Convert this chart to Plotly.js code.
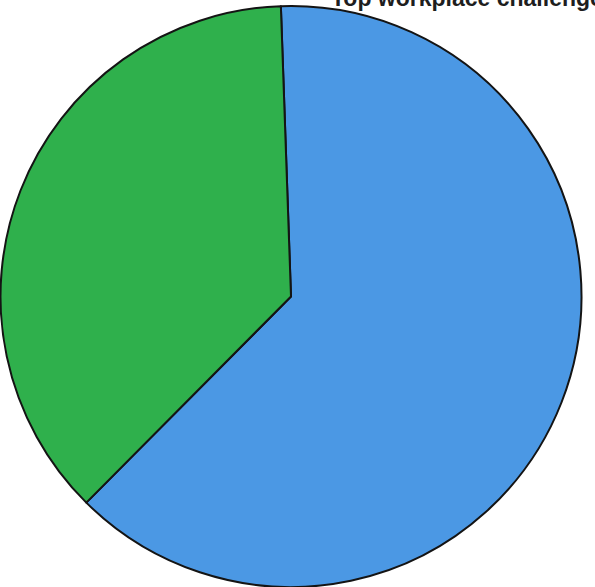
<!DOCTYPE html>
<html>
<head>
<meta charset="utf-8">
<script src="https://cdn.plot.ly/plotly-3.0.1.min.js"></script>
<style>html,body{margin:0;padding:0;background:#fff;}#chart{width:595px;height:587px;}</style>
</head>
<body>
<div id="chart"></div>
<script>
const categories = ["Blue segment", "Green segment"];
const values = [63, 37];
const sliceColors = ["#4b98e4", "#2fb04c"];
const titleText = "Top workplace challenges";

const data = [{
  type: "pie",
  labels: categories,
  values: values,
  sort: false,
  direction: "clockwise",
  rotation: -2,
  textinfo: "none",
  hoverinfo: "label+percent",
  marker: { colors: sliceColors, line: { color: "#141414", width: 2 } },
  showlegend: false
}];

const layout = {
  width: 595, height: 587,
  margin: { l: 0, r: 13, t: 6, b: 0 },
  paper_bgcolor: "#ffffff",
  plot_bgcolor: "#ffffff",
  showlegend: false,
  annotations: [{
    text: "<b>" + titleText + "</b>",
    xref: "paper", yref: "paper",
    x: 0.565, y: 1, xanchor: "left", yanchor: "bottom",
    yshift: -7,
    showarrow: false,
    font: { family: "Liberation Sans, Arial, sans-serif", size: 23, color: "#1e1e1e" }
  }]
};

Plotly.newPlot("chart", data, layout, { displayModeBar: false, staticPlot: true });
</script>
</body>
</html>
